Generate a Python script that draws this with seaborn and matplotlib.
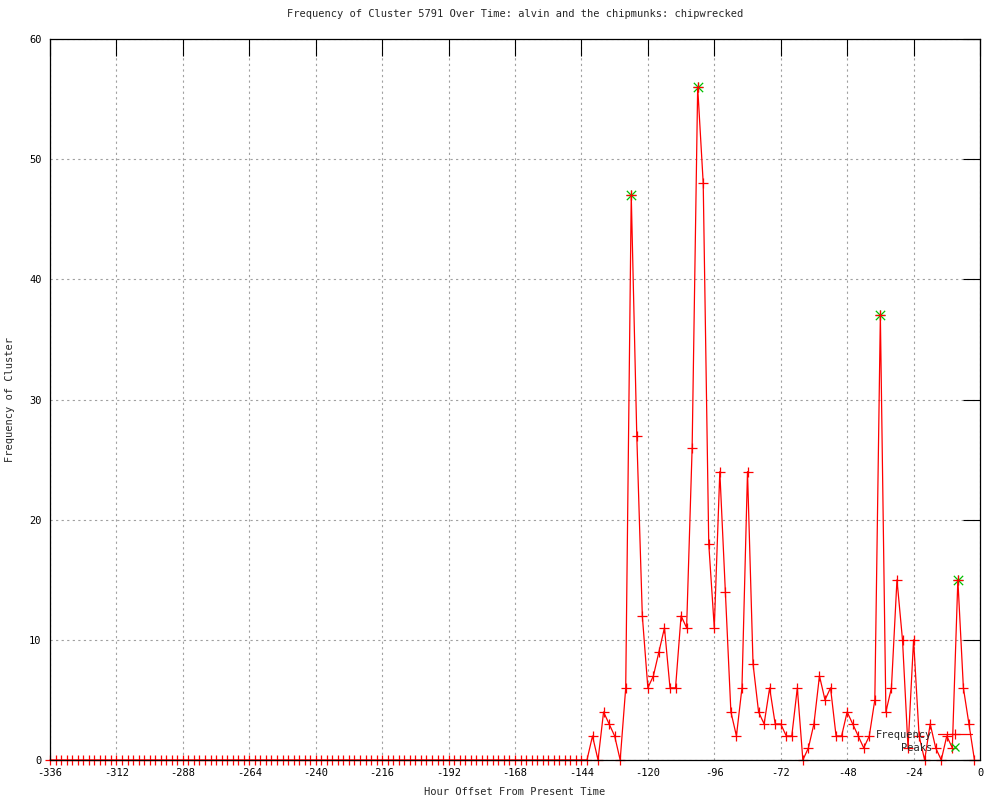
import numpy as np
import pandas as pd
import seaborn as sns
import matplotlib
matplotlib.use("Agg")
import matplotlib.pyplot as plt
from matplotlib.lines import Line2D

# hour offsets, one bin every 2 hours, -336 .. -2
hours = list(range(-336, 0, 2))

# frequency values: zero from -336 to -146, then -144 .. -2
quiet = [0] * 96
active = [0, 0, 2, 0, 4, 3, 2, 0, 6, 47, 27, 12, 6, 7, 9, 11, 6, 6, 12, 11,
          26, 56, 48, 18, 11, 24, 14, 4, 2, 6, 24, 8, 4, 3, 6, 3, 3, 2, 2, 6,
          0, 1, 3, 7, 5, 6, 2, 2, 4, 3, 2, 1, 2, 5, 37, 4, 6, 15, 10, 1,
          10, 2, 0, 3, 1, 0, 2, 1, 15, 6, 3, 0]
freq = quiet + active

peak_hours = [-126, -102, -36, -8]
peak_vals = [47, 56, 37, 15]

x_ticks = list(range(-336, 1, 24))
y_ticks = list(range(0, 61, 10))

sns.set_style("white")
plt.rcParams['font.family'] = ['DejaVu Sans Mono', 'DejaVu Sans']
plt.rcParams['axes.unicode_minus'] = False

df = pd.DataFrame({"hour": hours, "freq": freq})
pk = pd.DataFrame({"hour": peak_hours, "freq": peak_vals})

fig = plt.figure(figsize=(10, 8), dpi=100)
ax = fig.add_axes([0.05, 0.05, 0.93, 0.90125])

fs = 7.5
green = "#00c000"

sns.scatterplot(data=pk, x="hour", y="freq", ax=ax, marker="x", color=green,
                edgecolor=green, s=45, linewidth=0.9, zorder=3, legend=False)
sns.scatterplot(data=pk, x="hour", y="freq", ax=ax, marker="+", color=green,
                edgecolor=green, s=60, linewidth=0.9, zorder=3, legend=False)
sns.lineplot(data=df, x="hour", y="freq", ax=ax, color="red", linewidth=0.9,
             marker="+", markersize=7, markeredgewidth=0.9,
             markeredgecolor="red", zorder=4, clip_on=False)

ax.set_xlim(-336, 0)
ax.set_ylim(0, 60)
ax.set_xticks(x_ticks)
ax.set_yticks(y_ticks)
ax.tick_params(direction="in", length=12, width=0.8, top=True, right=True,
               labelsize=fs, colors="black", pad=6)
ax.grid(True, color="#a0a0a0", linestyle=(0, (2, 3)), linewidth=0.8)
for s in ax.spines.values():
    s.set_color("black")
    s.set_linewidth(0.9)
    s.set_zorder(4.5)

ax.set_title("Frequency of Cluster 5791 Over Time: alvin and the chipmunks: chipwrecked",
             fontsize=fs, pad=16)
ax.set_xlabel("Hour Offset From Present Time", fontsize=fs, labelpad=6)
ax.set_ylabel("Frequency of Cluster", fontsize=fs, labelpad=10)

handles = [
    Line2D([], [], color="red", linewidth=0.9, marker="+", markersize=7,
           markeredgewidth=0.9, markeredgecolor="red"),
    Line2D([], [], color=green, linestyle="none", marker="x", markersize=6,
           markeredgewidth=0.9),
]
ax.legend(handles, ["Frequency", "Peaks"], loc="lower right",
          bbox_to_anchor=(0.999, 0.0), frameon=False, fontsize=fs,
          markerfirst=False, handlelength=3.2, numpoints=1, labelspacing=0.25,
          handletextpad=0.6, borderaxespad=0.3)

fig.savefig("out.png", dpi=100)
